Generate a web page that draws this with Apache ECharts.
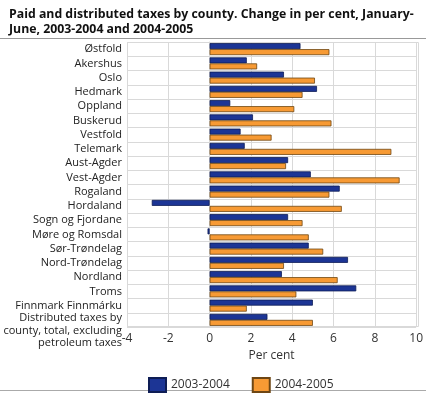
<!DOCTYPE html>
<html><head><meta charset="utf-8">
<script src="https://cdn.jsdelivr.net/npm/echarts@6/dist/echarts.min.js"></script>
<style>html,body{margin:0;padding:0;background:#fff}#c{width:426px;height:393px}</style>
</head><body><div id="c"></div>
<script>
const categories = ['Østfold','Akershus','Oslo','Hedmark','Oppland','Buskerud','Vestfold','Telemark','Aust-Agder','Vest-Agder','Rogaland','Hordaland','Sogn og Fjordane','Møre og Romsdal','Sør-Trøndelag','Nord-Trøndelag','Nordland','Troms','Finnmark Finnmárku','Distributed taxes by\ncounty, total, excluding\npetroleum taxes'];
const series2003_2004 = [4.4,1.8,3.6,5.2,1.0,2.1,1.5,1.7,3.8,4.9,6.3,-2.8,3.8,-0.1,4.8,6.7,3.5,7.1,5.0,2.8];
const series2004_2005 = [5.8,2.3,5.1,4.5,4.1,5.9,3.0,8.8,3.7,9.2,5.8,6.4,4.5,4.8,5.5,3.6,6.2,4.2,1.8,5.0];
const seriesNames = ['2003-2004','2004-2005'];
const xTicks = {min:-4, max:10, interval:2};

const FONT = '"Open Sans", "Noto Sans", sans-serif';
const chart = echarts.init(document.getElementById('c'), null, {renderer:'canvas'});
const catData = categories.map((c,i)=> i===categories.length-1 ? {value:c, textStyle:{verticalAlign:'top', lineHeight:12.5, padding:[-8,0,0,0]}} : c);
chart.setOption({
  animation:false,
  title:{text:'Paid and distributed taxes by county. Change in per cent, January-\nJune, 2003-2004 and 2004-2005', left:4, top:2,
    textStyle:{fontFamily:FONT, fontSize:12.3, fontWeight:'bold', color:'#111', lineHeight:15}},
  legend:{left:143, top:372, itemWidth:17, itemHeight:14, itemGap:22, icon:'rect',
    textStyle:{fontFamily:FONT, fontSize:12, color:'#333'}, data:seriesNames},
  grid:{left:127, right:7, top:42, bottom:66, containLabel:false},
  xAxis:{type:'value', min:xTicks.min, max:xTicks.max, interval:xTicks.interval,
    name:'Per cent', nameLocation:'middle', nameGap:23,
    nameTextStyle:{fontFamily:FONT, fontSize:12, color:'#333'},
    axisLine:{show:false}, axisTick:{show:false},
    axisLabel:{fontFamily:FONT, fontSize:12, color:'#333', margin:6},
    splitLine:{show:true, lineStyle:{color:'#d9d9d9', width:1}}},
  yAxis:{type:'category', inverse:true, data:catData,
    axisLine:{show:true, lineStyle:{color:'#d9d9d9'}}, axisTick:{show:false},
    axisLabel:{interval:0, fontFamily:FONT, fontSize:11, color:'#222', margin:5, lineHeight:12.5},
    splitLine:{show:true, interval:0, lineStyle:{color:'#d9d9d9', width:1}}},
  series:[
    {name:seriesNames[0], type:'bar', data:series2003_2004, barWidth:6, barGap:'0%',
     itemStyle:{color:'#1c3595', borderColor:'#0e1d55', borderWidth:0.8}},
    {name:seriesNames[1], type:'bar', data:series2004_2005, barWidth:6, barGap:'0%',
     itemStyle:{color:'#f79a34', borderColor:'#6e4613', borderWidth:0.8}}
  ],
  graphic:[
    {type:'line', shape:{x1:0,y1:38.5,x2:426,y2:38.5}, style:{stroke:'#999', lineWidth:1}},
    {type:'line', shape:{x1:0,y1:390.5,x2:426,y2:390.5}, style:{stroke:'#aaa', lineWidth:1}},
    {type:'rect', shape:{x:127.5,y:42.5,width:291,height:284}, style:{fill:'none', stroke:'#d9d9d9', lineWidth:1}, silent:true}
  ]
});
</script></body></html>
